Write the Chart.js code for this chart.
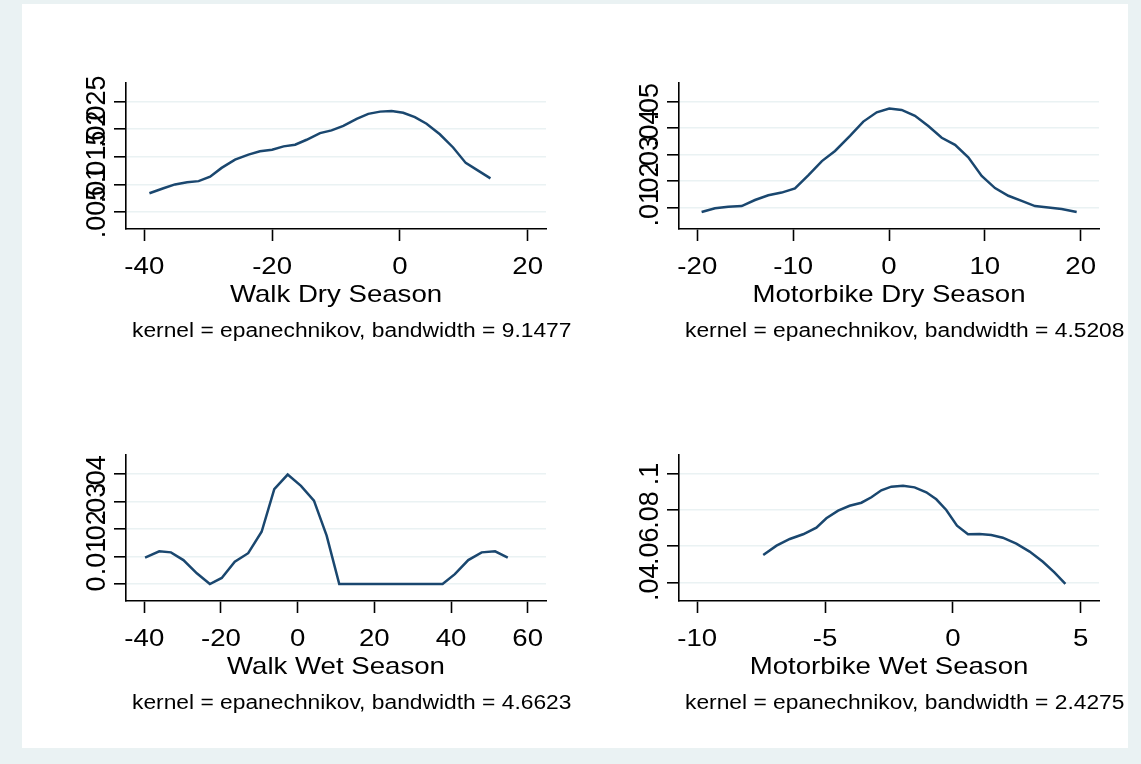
<!DOCTYPE html>
<html>
<head>
<meta charset="utf-8">
<script src="https://cdn.jsdelivr.net/npm/chart.js@4.4.1/dist/chart.umd.min.js"></script>
<style>
    html, body { margin: 0; padding: 0; background: #eaf2f3; overflow: hidden; }
    #frame { position: absolute; left: 22px; top: 4px; width: 1106px; height: 744px; background: #fff; }
    canvas { position: absolute; }
</style>
</head>
<body>
<div id="frame"></div>
<canvas id="walkDry" width="553" height="372" style="left:22px;top:4px"></canvas>
<canvas id="motoDry" width="553" height="372" style="left:575px;top:4px"></canvas>
<canvas id="walkWet" width="553" height="372" style="left:22px;top:376px"></canvas>
<canvas id="motoWet" width="553" height="372" style="left:575px;top:376px"></canvas>
<script>
// ---------- data ----------
const titles = ["Walk Dry Season", "Motorbike Dry Season", "Walk Wet Season", "Motorbike Wet Season"];
const notes = [
    "kernel = epanechnikov, bandwidth = 9.1477",
    "kernel = epanechnikov, bandwidth = 4.5208",
    "kernel = epanechnikov, bandwidth = 4.6623",
    "kernel = epanechnikov, bandwidth = 2.4275",
];

const walkDryX = [-39.2, -37.0, -35.2, -33.3, -31.5, -29.7, -27.9, -25.8, -23.7, -21.9, -20.0, -18.2, -16.4, -14.6, -12.5, -10.7, -8.85, -6.77, -4.95, -3.1, -1.3, 0.52, 2.34, 4.17, 6.25, 8.33, 10.3, 12.24, 14.17];
const walkDryY = [0.0084, 0.0093, 0.0100, 0.0104, 0.0106, 0.0114, 0.0130, 0.0145, 0.0154, 0.0160, 0.0163, 0.0169, 0.0172, 0.0181, 0.0193, 0.0198, 0.0206, 0.0219, 0.0228, 0.0232, 0.0233, 0.0230, 0.0222, 0.0210, 0.0191, 0.0167, 0.0139, 0.0125, 0.0111];
const walkDryXTicks = [-40, -20, 0, 20];
const walkDryYTicks = [0.005, 0.01, 0.015, 0.02, 0.025];
const walkDryYLabels = [".005", ".01", ".015", ".02", ".025"];

const motoDryX = [-19.55, -18.15, -16.77, -15.37, -13.98, -12.59, -11.2, -9.81, -8.4, -7.0, -5.63, -4.07, -2.68, -1.28, 0.03, 1.32, 2.71, 4.1, 5.5, 6.89, 8.27, 9.67, 11.06, 12.45, 13.84, 15.23, 16.62, 18.01, 19.58];
const motoDryY = [0.0084, 0.0098, 0.0104, 0.0106, 0.0129, 0.0147, 0.0157, 0.0173, 0.0223, 0.0276, 0.0314, 0.0371, 0.0425, 0.0460, 0.0474, 0.0469, 0.0447, 0.0408, 0.0364, 0.0337, 0.0290, 0.0220, 0.0174, 0.0145, 0.0126, 0.0106, 0.0101, 0.0095, 0.0084];
const motoDryXTicks = [-20, -10, 0, 10, 20];
const motoDryYTicks = [0.01, 0.02, 0.03, 0.04, 0.05];
const motoDryYLabels = [".01", ".02", ".03", ".04", ".05"];

const walkWetX = [-39.8, -36.1, -33.05, -29.8, -26.3, -22.9, -19.8, -16.4, -12.9, -9.4, -6.1, -2.6, 0.86, 4.25, 7.56, 10.85, 37.8, 41.0, 44.5, 48.0, 51.5, 54.8];
const walkWetY = [0.0096, 0.0119, 0.0115, 0.0087, 0.0039, 0, 0.0022, 0.0081, 0.0112, 0.0190, 0.0345, 0.0398, 0.0357, 0.0303, 0.0176, 0, 0, 0.0036, 0.0087, 0.0115, 0.0119, 0.0096];
const walkWetXTicks = [-40, -20, 0, 20, 40, 60];
const walkWetYTicks = [0, 0.01, 0.02, 0.03, 0.04];
const walkWetYLabels = ["0", ".01", ".02", ".03", ".04"];

const motoWetX = [-7.42, -6.9, -6.38, -5.86, -5.34, -4.95, -4.49, -4.04, -3.58, -3.19, -2.8, -2.41, -1.95, -1.5, -1.04, -0.65, -0.26, 0.16, 0.59, 1.04, 1.5, 1.95, 2.48, 3.0, 3.52, 3.97, 4.4];
const motoWetY = [0.0551, 0.0603, 0.0640, 0.0666, 0.0703, 0.0755, 0.0797, 0.0824, 0.0841, 0.0871, 0.0910, 0.0930, 0.0935, 0.0926, 0.0899, 0.0860, 0.0801, 0.0714, 0.0666, 0.0668, 0.0662, 0.0647, 0.0614, 0.0570, 0.0514, 0.0455, 0.0391];
const motoWetXTicks = [-10, -5, 0, 5];
const motoWetYTicks = [0.04, 0.06, 0.08, 0.1];
const motoWetYLabels = [".04", ".06", ".08", ".1"];

// ---------- panels ----------
const panels = [
    { id: "walkDry", xs: walkDryX, ys: walkDryY, xTicks: walkDryXTicks, yTicks: walkDryYTicks, yLabels: walkDryYLabels, xMin: -42.864, xMax: 22.864, yMin: 0.00192, yMax: 0.02839 },
    { id: "motoDry", xs: motoDryX, ys: motoDryY, xTicks: motoDryXTicks, yTicks: motoDryYTicks, yLabels: motoDryYLabels, xMin: -21.909, xMax: 21.909, yMin: 0.00196, yMax: 0.05706 },
    { id: "walkWet", xs: walkWetX, ys: walkWetY, xTicks: walkWetXTicks, yTicks: walkWetYTicks, yLabels: walkWetYLabels, xMin: -44.773, xMax: 64.773, yMin: -0.00618, yMax: 0.04691 },
    { id: "motoWet", xs: motoWetX, ys: motoWetY, xTicks: motoWetXTicks, yTicks: motoWetYTicks, yLabels: motoWetYLabels, xMin: -10.715, xMax: 5.715, yMin: 0.02964, yMax: 0.11053 },
];

const FONT = '"Liberation Sans", Arial, sans-serif';
const AXIS = "#000";
const GRID = "#eaf2f3";
const LINE = "#1a476f";

// draw text stretched horizontally (stata's glyphs come out wider)
function stretchText(ctx, text, x, y, k) {
    ctx.save();
    ctx.translate(x, y);
    ctx.scale(k, 1);
    ctx.fillText(text, 0, 0);
    ctx.restore();
}

// all the text of a panel: x tick labels, rotated y tick labels, title, note
const stataText = {
    id: "stataText",
    afterDraw(chart, args, opts) {
        const { ctx, chartArea } = chart;
        const { x, y } = chart.scales;
        ctx.save();
        ctx.fillStyle = "#000";
        ctx.textBaseline = "alphabetic";

        ctx.font = "24px " + FONT;
        ctx.textAlign = "center";
        opts.xTicks.forEach((v) => {
            stretchText(ctx, String(v), x.getPixelForValue(v), chartArea.bottom + 45, 1.15);
        });

        ctx.font = "27px " + FONT;
        opts.yTicks.forEach((v, i) => {
            ctx.save();
            ctx.translate(chartArea.left - 21, y.getPixelForValue(v));
            ctx.rotate(-Math.PI / 2);
            ctx.fillText(opts.yLabels[i], 0, 0);
            ctx.restore();
        });

        ctx.font = "24px " + FONT;
        stretchText(ctx, opts.title, (chartArea.left + chartArea.right) / 2, chartArea.bottom + 73, 1.15);

        ctx.font = "20px " + FONT;
        ctx.textAlign = "left";
        stretchText(ctx, opts.note, chartArea.left + 6, chartArea.bottom + 108, 1.14);
        ctx.restore();
    },
};

panels.forEach((p, idx) => {
    const ctx = document.getElementById(p.id).getContext("2d");
    new Chart(ctx, {
        type: "scatter",
        data: {
            datasets: [
                {
                    data: p.xs.map((v, i) => ({ x: v, y: p.ys[i] })),
                    showLine: true,
                    borderColor: LINE,
                    borderWidth: 2.5,
                    pointRadius: 0,
                    tension: 0,
                },
            ],
        },
        options: {
            responsive: false,
            animation: false,
            devicePixelRatio: 1,
            layout: { padding: { top: 79, right: 29, left: 0, bottom: 0 } },
            plugins: {
                legend: { display: false },
                tooltip: { enabled: false },
                stataText: {
                    xTicks: p.xTicks,
                    yTicks: p.yTicks,
                    yLabels: p.yLabels,
                    title: titles[idx],
                    note: notes[idx],
                },
            },
            scales: {
                x: {
                    type: "linear",
                    min: p.xMin,
                    max: p.xMax,
                    afterBuildTicks: (s) => { s.ticks = p.xTicks.map((v) => ({ value: v })); },
                    afterFit: (s) => { s.height = 147; },
                    ticks: { display: false },
                    grid: { drawOnChartArea: false, drawTicks: true, tickLength: 12, tickColor: AXIS, tickWidth: 1.6 },
                    border: { display: true, color: AXIS, width: 1.6 },
                },
                y: {
                    type: "linear",
                    min: p.yMin,
                    max: p.yMax,
                    afterBuildTicks: (s) => { s.ticks = p.yTicks.map((v) => ({ value: v })); },
                    afterFit: (s) => { s.width = 104; },
                    ticks: { display: false },
                    grid: { color: GRID, lineWidth: 1.6, drawTicks: true, tickLength: 12, tickColor: AXIS, tickWidth: 1.6 },
                    border: { display: true, color: AXIS, width: 1.6 },
                },
            },
        },
        plugins: [stataText],
    });
});
</script>
</body>
</html>
